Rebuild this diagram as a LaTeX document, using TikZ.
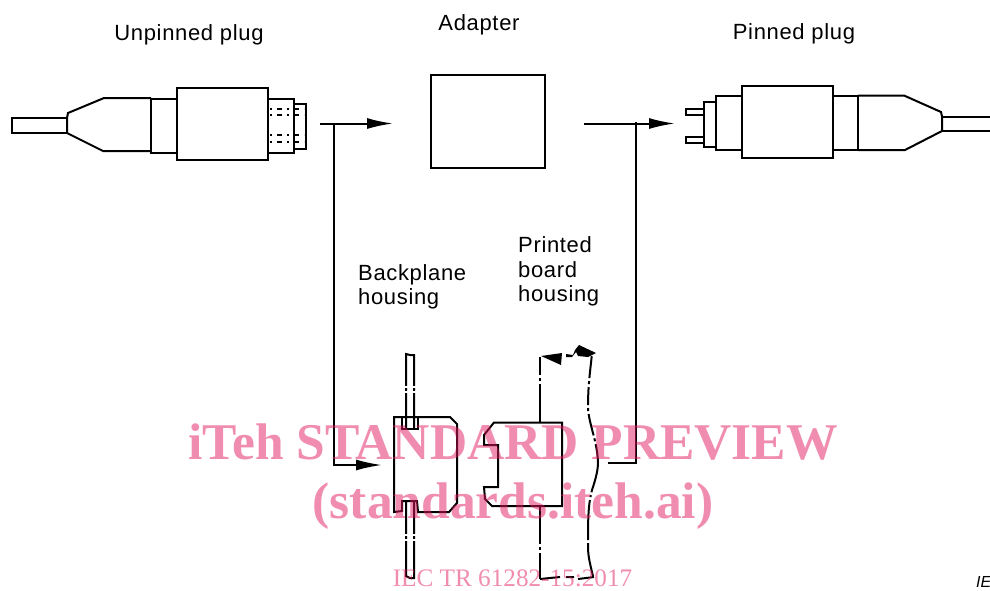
\documentclass[tikz,border=0pt]{standalone}
\usepackage{fontspec}
\setmainfont{Liberation Sans}
\newfontfamily\wmfont{Liberation Serif}
\newfontfamily\capfont[LetterSpace=3]{Liberation Sans}
\usetikzlibrary{arrows.meta}
\definecolor{wm}{RGB}{225,25,95}
\tikzset{
  part/.style={draw=black,line width=2pt,line join=miter},
  heavy/.style={draw=black,line width=2.6pt},
  dots/.style={draw=black,line width=1.6pt,dash pattern=on 2pt off 5pt on 5pt off 5pt},
  flow/.style={draw=black,line width=2pt,-{Latex[length=26pt,width=11pt]}},
  plain/.style={draw=black,line width=2pt},
  caption/.style={font=\capfont\fontsize{22}{24.5}\selectfont,align=left,inner sep=0pt},
  wmbig/.style={font=\wmfont\bfseries\fontsize{51.5}{56}\selectfont,text=wm,text opacity=.5,inner sep=0pt},
  wmsmall/.style={font=\wmfont\fontsize{25.2}{28}\selectfont,text=wm,text opacity=.5,inner sep=0pt},
  breakline/.style={draw=black,line width=2pt,dash pattern=on 38pt off 3pt on 3pt off 3pt},
}
\begin{document}
\begin{tikzpicture}[x=1pt,y=-1pt]
\useasboundingbox (0,0) rectangle (990,590);
% captions
\node[caption] (lblU) at (189,34.5) {Unpinned plug};
\node[caption] (lblA) at (479,24.5) {Adapter};
\node[caption] (lblP) at (794,33.5) {Pinned plug};
\node[caption,anchor=north west] (lblB) at (358,264) {Backplane\\housing};
\node[caption,anchor=north west] (lblPB) at (518,236.5) {Printed\\board\\housing};
\node[font=\itshape\fontsize{16}{18}\selectfont,anchor=west,inner sep=0pt] (lblIE) at (976,582) {IE};
% unpinned plug
\draw[part] (67,118) -- (11.5,118) -- (11.5,133) -- (67,133);
\draw[part] (151,98) -- (104,98) -- (68,113) -- (67,118) -- (67,133) -- (103,151) -- (151,151);
\draw[heavy] (151,98) -- (151,152);
\draw[part] (151,98.5) rectangle (177,153);
\node[part,minimum width=91pt,minimum height=72pt,inner sep=0pt] (bodyL) at (222.5,124) {};
\draw[part] (268,98.5) -- (294,98.5) -- (294,153) -- (268,153);
\draw[part] (294,104) -- (306,104) -- (306,149) -- (294,149);
\foreach \y in {109,115,135,142} \draw[dots] (270,\y) -- (304,\y);
% pinned plug
\draw[part] (704,109) -- (686,109) -- (686,115) -- (704,115);
\draw[part] (704,137) -- (686,137) -- (686,143) -- (704,143);
\draw[part] (716,102) -- (704,102) -- (704,147) -- (716,147);
\draw[part] (742,96) -- (716,96) -- (716,150) -- (742,150);
\node[part,minimum width=91pt,minimum height=72pt,inner sep=0pt] (bodyR) at (787.5,122) {};
\draw[part] (833,96) -- (858,96) (833,150) -- (858,150);
\draw[part] (858,95.5) -- (904,95.5) -- (941,112) -- (942,116.5) -- (942,131) -- (905,150) -- (858,150);
\draw[heavy] (858,95) -- (858,151);
\draw[part] (942,116.5) -- (990,116.5) (942,131) -- (990,131);
% adapter
\node[part,minimum width=114pt,minimum height=93pt,inner sep=0pt] (adapter) at (488,121.5) {};
% connectors
\coordinate (a1) at (320,123.5); \coordinate (a2) at (393,123.5);
\coordinate (a3) at (334,124); \coordinate (a3b) at (334,465); \coordinate (a4) at (382,465);
\coordinate (b1) at (584,123.5); \coordinate (b2) at (675,123.5);
\coordinate (b3) at (636,122); \coordinate (b3b) at (636,463); \coordinate (b4) at (608,463);
\draw[flow] (a1) -- (a2);
\draw[flow] (a3) -- (a3b) -- (a4);
\draw[flow] (b1) -- (b2);
\draw[plain] (b3) -- (b3b) -- (b4);
% backplane housing
\draw[part] (406,429) -- (406,354) -- (410,355) -- (414,355) -- (414,429);
\draw[part] (406,501) -- (406,576) -- (410,578) -- (414,578) -- (414,501);
\draw[white,line width=2pt] (403,387) -- (417,387) (403,392) -- (417,392) (403,535) -- (417,535) (403,540) -- (417,540);
\draw[part] (402,418) -- (402,429) -- (418,429) -- (418,418);
\draw[part] (394,417) -- (450,417) -- (457,424) -- (457,503) -- (449,512) -- (418,512) -- (417,501) -- (402,501) -- (402,511) -- (394,512) -- cycle;
% printed board housing
\draw[part] (494,422.5) -- (562,422.5) -- (562,506) -- (492,506) -- (485,499) -- (484,487) -- (498,487) -- (498,445) -- (484,445) -- (484,435) -- cycle;
\draw[breakline] (540,422) -- (540,357);
\draw[breakline] (540,506) -- (540,579);
\draw[plain] (540,579) -- (560,577) (566,577) -- (574,577) (578,579) -- (594,577);
\draw[part] (593,576) .. controls (589,560) and (588,555) .. (588,545);
\draw[part,dash pattern=on 2pt off 3pt on 40pt off 3pt] (588,545) .. controls (588,520) and (588,505) .. (592,490) .. controls (596,478) and (598,470) .. (598,462);
\draw[part,dash pattern=on 18pt off 3pt on 3pt off 3pt on 22pt off 3pt on 3pt off 3pt] (598,462) .. controls (597,440) and (589,425) .. (588,408) .. controls (588,390) and (589,380) .. (592,354);
\fill[black] (541,356) -- (562,353) -- (561,365) -- cycle;
\fill[black] (566,354) -- (573,355) -- (575,350) -- (579,345) -- (596,353) -- (588,357) -- (578,356) -- (576,352) -- (572,357) -- (566,357) -- cycle;
% watermark
\node[wmbig] (wm1) at (513,442) {iTeh STANDARD PREVIEW};
\node[wmbig] (wm2) at (513,506) {(standards.iteh.ai)};
\node[wmsmall] (wm3) at (512.5,578) {IEC TR 61282-15:2017};
\end{tikzpicture}
\end{document}
